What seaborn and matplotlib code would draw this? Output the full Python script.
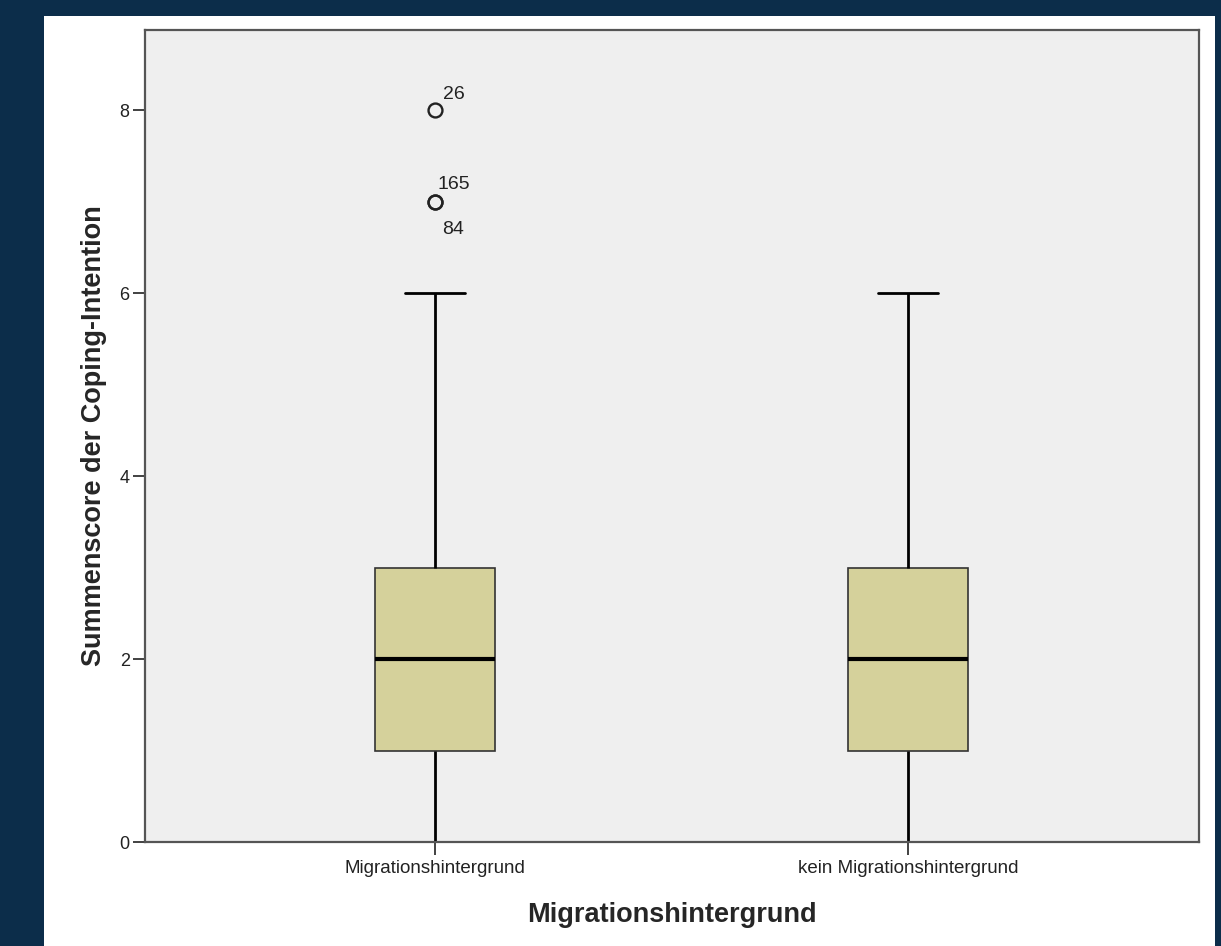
import numpy as np
import pandas as pd
import matplotlib.pyplot as plt
import seaborn as sns

# Summenscore values and how often each occurs per group
scores = [0, 1, 2, 3, 4, 5, 6, 7, 8]
counts_migr = [15, 30, 35, 25, 12, 6, 3, 2, 1]
counts_kein = [12, 28, 33, 24, 10, 5, 3, 0, 0]
groups = ["Migrationshintergrund", "kein Migrationshintergrund"]

# outlier case labels: (group, value, label, dx, dy) offsets in points
outlier_labels = [
    (0, 8, "26", 6, 8),
    (0, 7, "165", 2, 9),
    (0, 7, "84", 5, -23),
]

df = pd.DataFrame({
    "gruppe": np.repeat(groups[0], sum(counts_migr)).tolist()
    + np.repeat(groups[1], sum(counts_kein)).tolist(),
    "score": np.repeat(scores, counts_migr).tolist() + np.repeat(scores, counts_kein).tolist(),
})

sns.set_style("white")
plt.rcParams["font.family"] = ["Liberation Sans", "DejaVu Sans"]

fig = plt.figure(figsize=(12.21, 9.46), dpi=100, facecolor="#0c2d4a")
# white panel inside the navy frame
panel = fig.add_axes([44 / 1221, 0, (1215 - 44) / 1221, (946 - 16) / 946])
panel.set_facecolor("white")
panel.set_xticks([])
panel.set_yticks([])
for s in panel.spines.values():
    s.set_visible(False)

ax = fig.add_axes([145 / 1221, (946 - 842) / 946, (1199 - 145) / 1221, (842 - 30) / 946])
ax.set_facecolor("#efefef")

sns.boxplot(
    data=df, x="gruppe", y="score", order=groups, ax=ax,
    width=0.252, color="#d5d19b", saturation=1, linecolor="black", linewidth=2,
    whis=1.5, capwidths=0.126,
    medianprops=dict(linewidth=3, color="black"),
    boxprops=dict(edgecolor="#333333", linewidth=1.2),
    flierprops=dict(marker="o", markersize=10, markerfacecolor="none",
                    markeredgecolor="#222222", markeredgewidth=1.7),
)

for g, v, lab, dx, dy in outlier_labels:
    ax.annotate(lab, (g, v), xytext=(dx, dy), textcoords="offset points",
                fontsize=14, color="#222222")

ax.set_xlim(-0.613, 1.615)
ax.set_ylim(0, 8.88)
ax.set_yticks([0, 2, 4, 6, 8])
ax.tick_params(axis="both", direction="out", length=9, width=1.3, color="#333333",
               left=True, bottom=True, labelcolor="#222222")
ax.tick_params(axis="y", labelsize=13, pad=2)
ax.tick_params(axis="x", labelsize=13.5, pad=4)
for side in ["top", "right", "left", "bottom"]:
    ax.spines[side].set_color("#555555")
    ax.spines[side].set_linewidth(1.6)

ax.set_xlabel("Migrationshintergrund", fontsize=19.5, fontweight="bold", labelpad=18)
ax.set_ylabel("Summenscore der Coping-Intention", fontsize=19.5, fontweight="bold", labelpad=9)

fig.savefig("out.png", dpi=100, facecolor=fig.get_facecolor())
